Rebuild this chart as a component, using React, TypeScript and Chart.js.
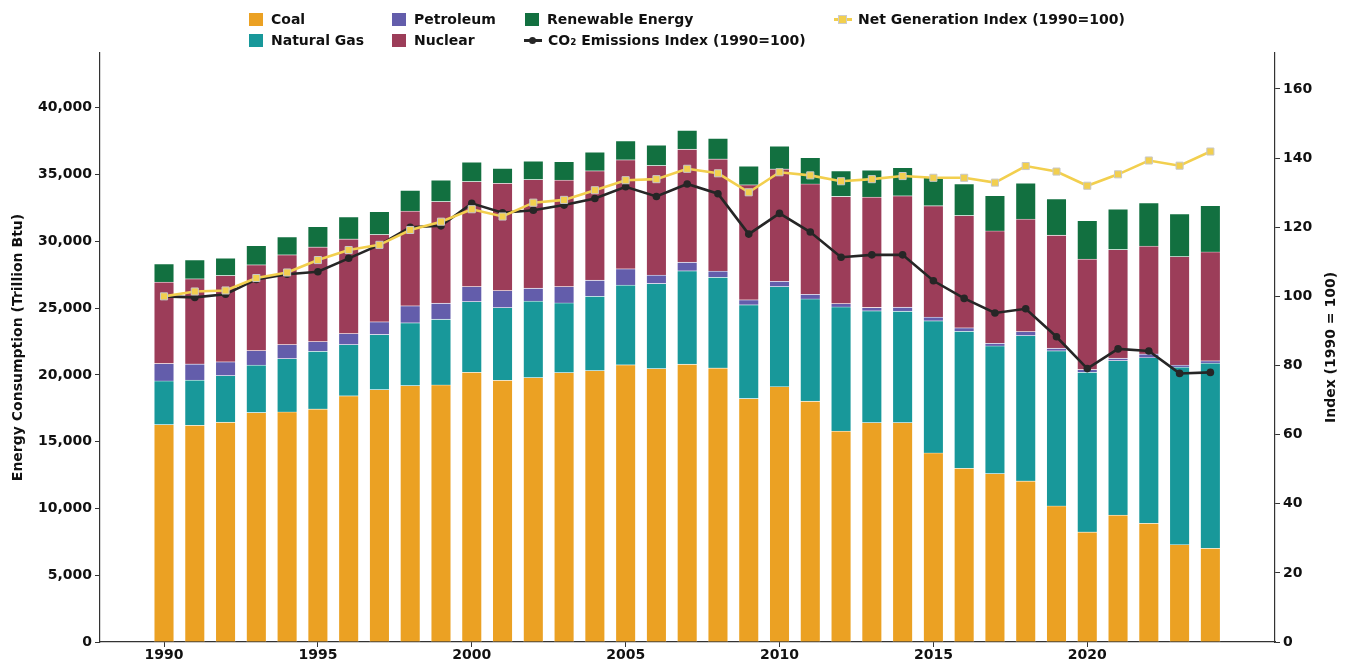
import React, { useEffect, useRef } from "react";
import { Chart, registerables } from "chart.js";

Chart.register(...registerables);

const years = [1990,1991,1992,1993,1994,1995,1996,1997,1998,1999,2000,2001,2002,2003,2004,2005,2006,2007,2008,2009,2010,2011,2012,2013,2014,2015,2016,2017,2018,2019,2020,2021,2022,2023,2024];
const coal = [16280,16230,16460,17180,17230,17450,18430,18900,19200,19250,20200,19600,19800,20170,20320,20750,20470,20800,20520,18230,19120,18030,15800,16430,16430,14160,13010,12610,12060,10190,8240,9510,8890,7290,7020];
const naturalGas = [3270,3390,3490,3550,3990,4320,3840,4120,4700,4920,5290,5440,5720,5220,5570,5970,6370,6990,6790,7020,7490,7660,9290,8370,8340,9890,10260,9560,10880,11610,11960,11560,12400,13290,13860];
const petroleum = [1300,1200,1030,1090,1050,720,820,950,1270,1200,1120,1270,970,1220,1200,1220,630,650,470,370,400,350,250,250,300,280,250,200,300,200,200,180,280,150,170];
const nuclear = [6100,6370,6460,6420,6720,7090,7090,6540,7090,7610,7870,8040,8140,7970,8190,8170,8210,8460,8390,8610,8410,8260,8020,8270,8340,8340,8410,8410,8420,8460,8270,8140,8070,8130,8160];
const renewable = [1370,1420,1300,1450,1350,1520,1650,1720,1570,1600,1450,1120,1380,1390,1400,1420,1530,1420,1550,1400,1720,1970,1920,2020,2120,2100,2370,2650,2700,2720,2890,3030,3240,3200,3470];
const co2Index = [100,99.7,100.6,104.9,106.4,107.1,111.0,114.9,120.0,120.4,126.9,124.2,124.9,126.4,128.3,131.7,128.9,132.5,129.7,118.0,124.0,118.6,111.3,112.0,112.0,104.5,99.4,95.2,96.4,88.3,79.1,84.8,84.2,77.7,78.0];
const netGenIndex = [100,101.4,101.7,105.3,106.9,110.5,113.4,114.9,119.2,121.6,125.2,123.1,127.1,127.9,130.7,133.6,133.9,136.9,135.6,130.1,135.9,135.0,133.3,133.9,134.8,134.3,134.3,132.9,137.7,136.1,132.0,135.3,139.3,137.8,141.9];

const xTicks = [1990, 1995, 2000, 2005, 2010, 2015, 2020];
const leftTicks = [0, 5000, 10000, 15000, 20000, 25000, 30000, 35000, 40000];
const rightTicks = [0, 20, 40, 60, 80, 100, 120, 140, 160];

const FONT = "'DejaVu Sans', sans-serif";
const COLORS = {
  coal: "#EBA123",
  gas: "#18989A",
  petroleum: "#635DAB",
  nuclear: "#9C3D59",
  renewable: "#127040",
  co2: "#262626",
  netgen: "#F2CF4E",
};

const pts = (arr: number[]) => years.map((y, i) => ({ x: y, y: arr[i] }));
const setTicks = (list: number[]) => (scale: any) => {
  scale.ticks = list.map((v) => ({ value: v }));
};

const rightTitlePlugin = {
  id: "rightTitle",
  afterDraw(chart: any) {
    const { ctx, chartArea } = chart;
    ctx.save();
    ctx.font = `bold 14px ${FONT}`;
    ctx.fillStyle = "#111";
    ctx.textAlign = "center";
    ctx.textBaseline = "middle";
    ctx.translate(1331, (chartArea.top + chartArea.bottom) / 2);
    ctx.rotate(-Math.PI / 2);
    ctx.fillText("Index (1990 = 100)", 0, 0);
    ctx.restore();
  },
};

function LegendItem(props: { left: number; top: number; kind: "box" | "line"; color: string; marker?: "circle" | "square"; label: React.ReactNode }) {
  const { left, top, kind, color, marker, label } = props;
  return (
    <div style={{ position: "absolute", left, top, height: 16, display: "flex", alignItems: "center", whiteSpace: "nowrap" }}>
      {kind === "box" ? (
        <div style={{ width: 14, height: 13, background: color, marginRight: 8 }} />
      ) : (
        <div style={{ position: "relative", width: 18, height: 13, marginRight: 6 }}>
          <div style={{ position: "absolute", left: 0, top: 5, width: 18, height: 3, background: color }} />
          <div
            style={{
              position: "absolute",
              left: 5,
              top: 3,
              width: 7,
              height: 7,
              borderRadius: marker === "circle" ? "50%" : 0,
              background: color,
              boxShadow: marker === "square" ? "0 0 0 1px #ccc" : "none",
            }}
          />
        </div>
      )}
      <span style={{ fontFamily: FONT, fontWeight: "bold", fontSize: 14, color: "#111" }}>{label}</span>
    </div>
  );
}

export default function App() {
  const canvasRef = useRef<HTMLCanvasElement | null>(null);

  useEffect(() => {
    if (!canvasRef.current) return;
    const barCommon = {
      type: "bar" as const,
      stack: "energy",
      yAxisID: "y",
      barThickness: 20,
      borderColor: "rgba(255,255,255,0.55)",
      borderWidth: 0.8,
      order: 3,
    };
    const tickFont = { family: FONT, weight: "bold", size: 14 };
    const chart = new Chart(canvasRef.current, {
      type: "bar",
      data: {
        datasets: [
          { ...barCommon, label: "Coal", data: pts(coal), backgroundColor: COLORS.coal },
          { ...barCommon, label: "Natural Gas", data: pts(naturalGas), backgroundColor: COLORS.gas },
          { ...barCommon, label: "Petroleum", data: pts(petroleum), backgroundColor: COLORS.petroleum },
          { ...barCommon, label: "Nuclear", data: pts(nuclear), backgroundColor: COLORS.nuclear },
          { ...barCommon, label: "Renewable Energy", data: pts(renewable), backgroundColor: COLORS.renewable },
          {
            type: "line" as const,
            label: "CO₂ Emissions Index (1990=100)",
            data: pts(co2Index),
            yAxisID: "y1",
            borderColor: COLORS.co2,
            backgroundColor: COLORS.co2,
            borderWidth: 2.6,
            pointStyle: "circle",
            pointRadius: 3.8,
            pointBorderWidth: 0,
            order: 2,
          },
          {
            type: "line" as const,
            label: "Net Generation Index (1990=100)",
            data: pts(netGenIndex),
            yAxisID: "y1",
            borderColor: COLORS.netgen,
            backgroundColor: COLORS.netgen,
            borderWidth: 2.6,
            pointStyle: "rect",
            pointRadius: 5,
            pointBorderColor: "#c8c8c8",
            pointBorderWidth: 1,
            order: 1,
          },
        ] as any,
      },
      options: {
        responsive: false,
        animation: false,
        layout: { padding: { top: 53, left: 0, right: 0, bottom: 0 } },
        plugins: { legend: { display: false }, tooltip: { enabled: false } },
        scales: {
          x: {
            type: "linear",
            min: 1987.92,
            max: 2026.1,
            stacked: true,
            offset: false,
            grid: { display: true, drawOnChartArea: false, drawTicks: true, tickLength: 5, color: "#333", offset: false },
            border: { display: true, color: "#333", width: 1.2 },
            ticks: {
              padding: 0,
              color: "#111",
              font: tickFont,
              callback: (v: any) => String(v),
            },
            afterBuildTicks: setTicks(xTicks),
            afterFit: (s: any) => { s.height = 20; },
          },
          y: {
            type: "linear",
            position: "left",
            min: 0,
            max: 44100,
            stacked: true,
            grid: { display: true, drawOnChartArea: false, drawTicks: true, tickLength: 5, color: "#333" },
            border: { display: true, color: "#333", width: 1.2 },
            ticks: {
              padding: 3,
              color: "#111",
              font: tickFont,
              callback: (v: any) => Number(v).toLocaleString("en-US"),
            },
            afterBuildTicks: setTicks(leftTicks),
            title: {
              display: true,
              text: "Energy Consumption (Trillion Btu)",
              color: "#111",
              font: tickFont,
              padding: { top: 10, bottom: 0 },
            },
            afterFit: (s: any) => { s.width = 100; },
          },
          y1: {
            type: "linear",
            position: "right",
            min: 0,
            max: 170.4,
            stacked: false,
            grid: { display: true, drawOnChartArea: false, drawTicks: true, tickLength: 5, color: "#333" },
            border: { display: true, color: "#333", width: 1.2 },
            ticks: {
              padding: 3,
              color: "#111",
              font: tickFont,
              callback: (v: any) => String(v),
            },
            afterBuildTicks: setTicks(rightTicks),
            afterFit: (s: any) => { s.width = 73; },
          },
        },
      } as any,
      plugins: [rightTitlePlugin],
    });
    return () => chart.destroy();
  }, []);

  return (
    <div style={{ position: "fixed", left: 0, top: 0, width: 1348, height: 662, background: "#fff" }}>
      <canvas ref={canvasRef} width={1348} height={662} style={{ position: "absolute", left: 0, top: 0 }} />
      <LegendItem left={249} top={11} kind="box" color={COLORS.coal} label="Coal" />
      <LegendItem left={249} top={32} kind="box" color={COLORS.gas} label="Natural Gas" />
      <LegendItem left={392} top={11} kind="box" color={COLORS.petroleum} label="Petroleum" />
      <LegendItem left={392} top={32} kind="box" color={COLORS.nuclear} label="Nuclear" />
      <LegendItem left={525} top={11} kind="box" color={COLORS.renewable} label="Renewable Energy" />
      <LegendItem left={524} top={32} kind="line" color={COLORS.co2} marker="circle" label={<>CO₂ Emissions Index (1990=100)</>} />
      <LegendItem left={834} top={11} kind="line" color={COLORS.netgen} marker="square" label="Net Generation Index (1990=100)" />
    </div>
  );
}
